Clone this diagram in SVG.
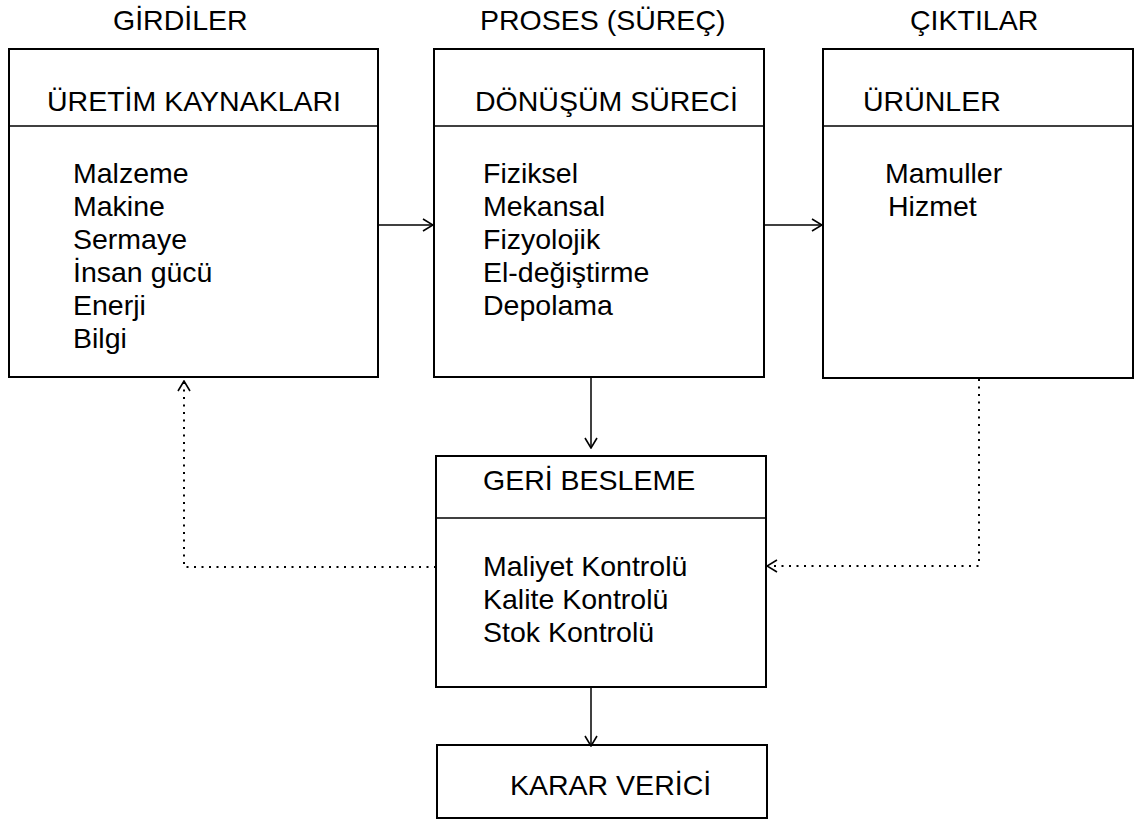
<svg xmlns="http://www.w3.org/2000/svg" width="1135" height="822" viewBox="0 0 1135 822">
  <style>
    text { font-family: "Liberation Sans", Arial, sans-serif; font-size: 28.5px; fill: #000; }
    .box { fill: #fff; stroke: #000; stroke-width: 2; }
    .sep { stroke: #000; stroke-width: 1.6; }
    .flow { fill: none; stroke: #000; stroke-width: 1.5; }
    .dot { fill: none; stroke: #000; stroke-width: 2; stroke-dasharray: 2 5.5; }
  </style>
  <defs>
    <marker id="open" viewBox="0 0 12 14" refX="11" refY="7" markerWidth="12" markerHeight="14" markerUnits="userSpaceOnUse" orient="auto">
      <path d="M1,1 L11,7 L1,13" fill="none" stroke="#000" stroke-width="1.6"/>
    </marker>
  </defs>

  <rect width="1135" height="822" fill="#fff"/>

  <!-- column headings -->
  <g id="headings">
    <text x="113" y="30">GİRDİLER</text>
    <text x="480" y="30">PROSES (SÜREÇ)</text>
    <text x="910" y="30">ÇIKTILAR</text>
  </g>

  <!-- inputs -->
  <g id="girdiler">
    <rect class="box" x="9" y="49" width="369" height="328"/>
    <line class="sep" x1="9" y1="126" x2="378" y2="126"/>
    <text x="47" y="111">ÜRETİM KAYNAKLARI</text>
    <text x="73" y="183">Malzeme</text>
    <text x="73" y="216">Makine</text>
    <text x="73" y="249">Sermaye</text>
    <text x="73" y="282">İnsan gücü</text>
    <text x="73" y="315">Enerji</text>
    <text x="73" y="348">Bilgi</text>
  </g>

  <!-- process -->
  <g id="proses">
    <rect class="box" x="434" y="49" width="330" height="328"/>
    <line class="sep" x1="434" y1="126" x2="764" y2="126"/>
    <text x="475" y="111">DÖNÜŞÜM SÜRECİ</text>
    <text x="483" y="183">Fiziksel</text>
    <text x="483" y="216">Mekansal</text>
    <text x="483" y="249">Fizyolojik</text>
    <text x="483" y="282">El-değiştirme</text>
    <text x="483" y="315">Depolama</text>
  </g>

  <!-- outputs -->
  <g id="ciktilar">
    <rect class="box" x="823" y="49" width="310" height="329"/>
    <line class="sep" x1="823" y1="126" x2="1133" y2="126"/>
    <text x="863" y="111">ÜRÜNLER</text>
    <text x="885" y="183">Mamuller</text>
    <text x="888" y="216">Hizmet</text>
  </g>

  <!-- feedback -->
  <g id="geri-besleme">
    <rect class="box" x="436" y="456" width="330" height="231"/>
    <line class="sep" x1="436" y1="518" x2="766" y2="518"/>
    <text x="483" y="490">GERİ BESLEME</text>
    <text x="483" y="576">Maliyet Kontrolü</text>
    <text x="483" y="609">Kalite Kontrolü</text>
    <text x="483" y="642">Stok Kontrolü</text>
  </g>

  <!-- decision maker -->
  <g id="karar-verici">
    <rect class="box" x="437" y="745" width="330" height="73"/>
    <text x="510" y="795">KARAR VERİCİ</text>
  </g>

  <!-- connectors -->
  <g id="connectors">
    <line class="flow" x1="378" y1="225" x2="433" y2="225" marker-end="url(#open)"/>
    <line class="flow" x1="764" y1="225" x2="822" y2="225" marker-end="url(#open)"/>
    <line class="flow" x1="591" y1="377" x2="591" y2="448" marker-end="url(#open)"/>
    <line class="flow" x1="591" y1="687" x2="591" y2="746" marker-end="url(#open)"/>
    <polyline class="dot" points="436,567 184,567 184,381" marker-end="url(#open)"/>
    <polyline class="dot" points="979,379 979,566 767,566" marker-end="url(#open)"/>
  </g>
</svg>
